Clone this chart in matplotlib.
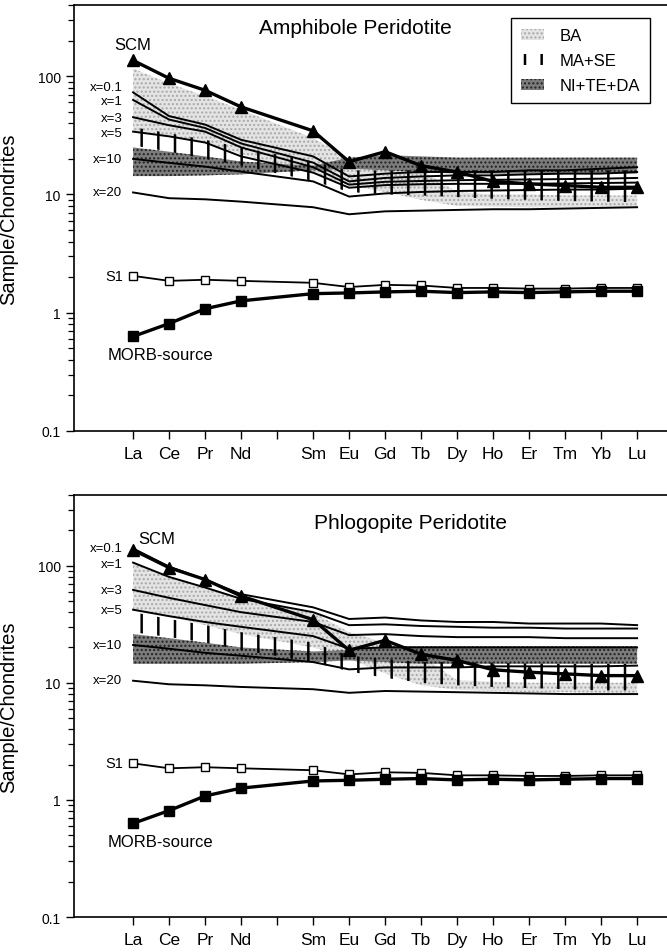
import numpy as np
import matplotlib
matplotlib.use("Agg")
import matplotlib.pyplot as plt
from matplotlib.patches import Patch

plt.rcParams['font.family'] = ['Liberation Sans', 'DejaVu Sans']
plt.rcParams['hatch.linewidth'] = 1.0

# REE order, Pm (pos 4) has a tick but no data
ree = ['La', 'Ce', 'Pr', 'Nd', 'Sm', 'Eu', 'Gd', 'Tb', 'Dy', 'Ho', 'Er', 'Tm', 'Yb', 'Lu']
pos = [0, 1, 2, 3, 5, 6, 7, 8, 9, 10, 11, 12, 13, 14]
tick_labels = ['La', 'Ce', 'Pr', 'Nd', '', 'Sm', 'Eu', 'Gd', 'Tb', 'Dy', 'Ho', 'Er', 'Tm', 'Yb', 'Lu']

scm = [136, 96, 76, 55, 34.5, 18.9, 23, 17.5, 15.5, 12.9, 12.3, 11.9, 11.5, 11.5]
s1 = [2.05, 1.86, 1.9, 1.86, 1.79, 1.65, 1.72, 1.7, 1.62, 1.62, 1.6, 1.6, 1.62, 1.62]
morb = [0.63, 0.81, 1.08, 1.26, 1.45, 1.47, 1.5, 1.52, 1.48, 1.5, 1.48, 1.5, 1.52, 1.52]

# amphibole peridotite model curves
amph_x01 = [73, 46, 39, 29, 21, 14.2, 15, 15.5, 15.5, 15.5, 16, 16, 16.5, 17]
amph_x1 = [63, 43, 36.5, 27, 18.6, 12.9, 13.8, 14.2, 14.5, 14.5, 14.8, 15, 15, 15.5]
amph_x3 = [45, 38.5, 34, 25, 17, 12.1, 12.8, 13, 13.2, 13.3, 13.4, 13.5, 13.6, 13.8]
amph_x5 = [34, 31, 27.5, 21, 15.3, 11.4, 12, 12.2, 12.3, 12.3, 12.3, 12.4, 12.5, 12.6]
amph_x10 = [20, 18.5, 17.2, 15.6, 12.9, 9.6, 10.2, 10.5, 10.7, 10.8, 10.9, 11, 11, 11.2]
amph_x20 = [10.4, 9.3, 9.1, 8.7, 7.8, 6.8, 7.2, 7.3, 7.4, 7.5, 7.5, 7.6, 7.7, 7.8]

amph_ba_hi = [116, 87, 68, 52, 30, 20, 19, 16, 10.5, 10, 10, 9.8, 9.8, 9.8]
amph_ba_lo = [34, 31, 27.5, 22, 15, 12, 10.5, 9, 8, 7.9, 7.8, 7.8, 7.7, 7.7]
amph_ma_hi = [37, 33, 29, 25, 19, 16, 16, 16, 16, 16, 16, 16, 16, 16]
amph_ma_lo = [26, 23, 20, 17.5, 13, 10.5, 10, 9.8, 9.5, 9.2, 9, 8.8, 8.7, 8.6]
amph_ni_hi = [25, 23, 21, 19, 17.5, 20.5, 21.5, 21, 20.5, 20.5, 20.5, 20.5, 20.5, 20.5]
amph_ni_lo = [14.3, 14.3, 14.5, 14.8, 16, 16.5, 16, 15.5, 15, 15, 15, 15, 15, 15]

# phlogopite peridotite model curves
phl_x01 = [140, 98, 76, 57, 44, 35, 36, 34, 33, 33, 32, 32, 32, 31]
phl_x1 = [106, 80, 65, 52, 40, 31, 31.5, 30.5, 30, 29.5, 29.5, 29, 29, 29]
phl_x3 = [62, 53, 46, 40, 33, 25.5, 26, 25, 24.5, 24.5, 24.5, 24, 24, 24]
phl_x5 = [42, 37, 33, 30, 25, 19.5, 20, 20, 20, 20, 20, 20, 20, 20]
phl_x10 = [21, 19.5, 18, 17, 15, 13, 13.5, 13.5, 13.5, 13.8, 13.8, 13.8, 13.8, 14]
phl_x20 = [10.4, 9.7, 9.5, 9.2, 8.8, 8.2, 8.5, 8.4, 8.3, 8.2, 8.1, 8.0, 8.0, 8.0]

phl_ba_hi = [106, 80, 65, 52, 40, 27, 22, 17, 10.5, 10.2, 10, 10, 10, 10]
phl_ba_lo = [42, 37, 31, 26, 20, 16, 12, 9.5, 8.7, 8.5, 8.3, 8.3, 8.2, 8.2]
phl_ma_hi = [40, 35, 31, 27, 22, 17, 16, 15, 15, 14.8, 14.6, 14.5, 14.5, 14.5]
phl_ma_lo = [27, 24.5, 22, 19, 15, 12.5, 11, 10, 9.5, 9.2, 9, 8.8, 8.6, 8.6]
phl_ni_hi = [26, 24, 22, 20, 18.5, 19, 20.5, 20.5, 20.5, 20.5, 20.5, 20.5, 20.5, 20.5]
phl_ni_lo = [14.5, 14.5, 14.5, 14.5, 15, 15.5, 15, 14.5, 14.5, 14.5, 14.5, 14.5, 14.5, 14.5]

x_names = ['x=0.1', 'x=1', 'x=3', 'x=5', 'x=10', 'x=20']
amph_label_y = [81, 62, 44, 33, 20, 10.4]
phl_label_y = [140, 104, 62, 42, 21, 10.5]

BA_FACE, BA_DOT = '#e4e4e4', '#a8a8a8'
NI_FACE, NI_DOT = '#7c7c7c', '#222222'


def panel(ax, title, title_xy, scm_xy, models, label_y, ba, ma, ni):
    ax.fill_between(pos, ba[0], ba[1], facecolor=BA_FACE, edgecolor=BA_DOT,
                    hatch='....', linewidth=0, zorder=1)
    ax.fill_between(pos, ni[0], ni[1], facecolor=NI_FACE, edgecolor=NI_DOT,
                    hatch='....', linewidth=0, zorder=2)
    bars = ax.fill_between(pos, ma[0], ma[1], facecolor='none', edgecolor='black',
                           hatch='|', linewidth=0, zorder=3)
    if hasattr(bars, 'set_hatch_linewidth'):
        bars.set_hatch_linewidth(1.8)

    for m in models:
        ax.plot(pos, m, color='black', lw=1.4, zorder=4)

    ax.plot(pos, scm, color='black', lw=2.4, marker='^', ms=9, zorder=6)
    ax.plot(pos, s1, color='black', lw=1.3, marker='s', ms=5.5,
            mfc='white', mec='black', mew=1.0, zorder=6)
    ax.plot(pos, morb, color='black', lw=2.4, marker='s', ms=7.5, zorder=6)

    for name, yv in zip(x_names, label_y):
        ax.text(-0.3, yv, name, ha='right', va='center', fontsize=9.5)
    ax.text(scm_xy[0], scm_xy[1], 'SCM', ha='center', va='center', fontsize=12)
    ax.text(-0.28, 2.05, 'S1', ha='right', va='center', fontsize=10.5)
    ax.text(-0.7, 0.44, 'MORB-source', ha='left', va='center', fontsize=12)
    ax.text(title_xy[0], title_xy[1], title, transform=ax.transAxes,
            ha='center', va='center', fontsize=15)

    ax.set_yscale('log')
    ax.set_ylim(0.1, 400)
    ax.set_xlim(-1.64, 14.83)
    ax.set_xticks(range(15))
    ax.set_xticklabels(tick_labels, fontsize=12.5)
    ax.set_yticks([0.1, 1, 10, 100])
    ax.set_yticklabels(['0.1', '1', '10', '100'], fontsize=10)
    ax.tick_params(axis='both', which='major', direction='out', length=6, width=1)
    ax.tick_params(axis='x', pad=5)
    ax.tick_params(axis='y', which='minor', direction='out', length=4, width=0.9)
    ax.spines['right'].set_visible(False)
    for s in ['left', 'bottom', 'top']:
        ax.spines[s].set_linewidth(1.2)
    ax.set_ylabel('Sample/Chondrites', fontsize=14.5)
    ax.yaxis.set_label_coords(-0.095, 0.5)


fig = plt.figure(figsize=(6.67, 9.53), dpi=100)
ax1 = fig.add_axes([0.111, 0.5467, 0.889, 0.447])
ax2 = fig.add_axes([0.111, 0.0367, 0.889, 0.4428])

panel(ax1, 'Amphibole Peridotite', (0.474, 0.948), (0, 186),
      [amph_x01, amph_x1, amph_x3, amph_x5, amph_x10, amph_x20], amph_label_y,
      (amph_ba_lo, amph_ba_hi), (amph_ma_lo, amph_ma_hi), (amph_ni_lo, amph_ni_hi))
panel(ax2, 'Phlogopite Peridotite', (0.568, 0.936), (0.67, 171),
      [phl_x01, phl_x1, phl_x3, phl_x5, phl_x10, phl_x20], phl_label_y,
      (phl_ba_lo, phl_ba_hi), (phl_ma_lo, phl_ma_hi), (phl_ni_lo, phl_ni_hi))

handles = [
    Patch(facecolor=BA_FACE, edgecolor=BA_DOT, hatch='....', linewidth=0, label='BA'),
    Patch(facecolor='none', edgecolor='black', hatch='|', linewidth=0, label='MA+SE'),
    Patch(facecolor=NI_FACE, edgecolor=NI_DOT, hatch='....', linewidth=0, label='NI+TE+DA'),
]
leg = ax1.legend(handles=handles, loc='upper right', bbox_to_anchor=(0.971, 0.969),
                 borderaxespad=0, fontsize=12, fancybox=False, framealpha=1,
                 edgecolor='black', labelspacing=0.6, handlelength=1.4,
                 handletextpad=0.9, borderpad=0.6)
leg.get_frame().set_linewidth(1.0)
for p in leg.get_patches():
    if p.get_hatch() == '|' and hasattr(p, 'set_hatch_linewidth'):
        p.set_hatch_linewidth(1.8)

fig.savefig('out.png', dpi=100)
